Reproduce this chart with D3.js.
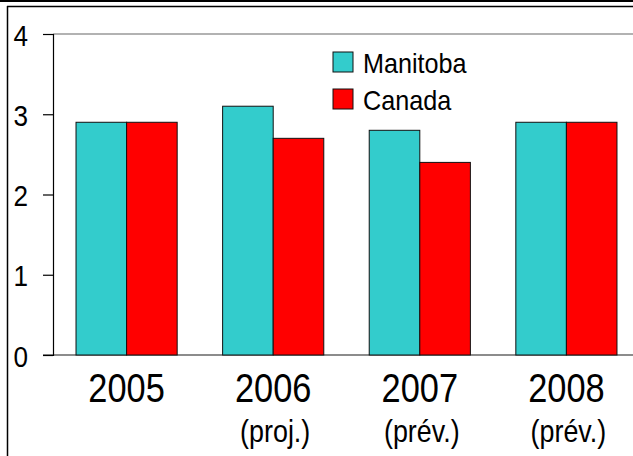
<!DOCTYPE html>
<html>
<head>
<meta charset="utf-8">
<script src="https://cdn.jsdelivr.net/npm/d3@7"></script>
<style>
  body { margin: 0; background: #fff; }
  svg text { font-family: "Liberation Sans", Arial, sans-serif; fill: #000; }
</style>
</head>
<body>
<svg></svg>
<script>
const years = ["2005", "2006", "2007", "2008"];
const notes = ["", "(proj.)", "(prév.)", "(prév.)"];
const seriesNames = ["Manitoba", "Canada"];
const manitoba = [2.9, 3.1, 2.8, 2.9];
const canada = [2.9, 2.7, 2.4, 2.9];
const yTicks = [0, 1, 2, 3, 4];
const colors = ["#33cccc", "#ff0000"];

let width = 633;
let height = 456;

let svg = d3.select('svg')
    .attr('width', width)
    .attr('height', height)

// no narrow font installed, so squeeze text horizontally
let narrow = (x, y, k) => 'translate(' + x + ',' + y + ') scale(' + k + ',1)'

// frame lines
svg.append('rect').attr('x', 0).attr('y', 0).attr('width', width).attr('height', 2).attr('fill', '#000')
svg.append('line').attr('x1', 7).attr('x2', width).attr('y1', 6.5).attr('y2', 6.5)
   .attr('stroke', '#000').attr('stroke-width', 1.5)
svg.append('line').attr('x1', 7.5).attr('x2', 7.5).attr('y1', 6).attr('y2', height)
   .attr('stroke', '#000').attr('stroke-width', 1.5)

let xScale = d3.scaleBand()
    .domain(years)
    .range([53, 640])
    .paddingInner(0.31)
    .paddingOuter(0.157)

let xSub = d3.scaleBand()
    .domain(seriesNames)
    .range([0, xScale.bandwidth()])

let yScale = d3.scaleLinear()
    .domain([0, 4])
    .range([355, 34])

// top gridline and baseline
svg.append('line').attr('x1', 53).attr('x2', width).attr('y1', yScale(4)).attr('y2', yScale(4))
   .attr('stroke', '#999').attr('stroke-width', 1.5)
svg.append('line').attr('x1', 43).attr('x2', width).attr('y1', yScale(0)).attr('y2', yScale(0))
   .attr('stroke', '#666').attr('stroke-width', 1.5)

// y axis
let yAxis = d3.axisLeft(yScale).tickValues(yTicks).tickSize(10).tickFormat(d3.format('d'))
let gy = svg.append('g')
    .attr('transform', 'translate(53, 0)')
    .call(yAxis)
gy.select('.domain').attr('stroke', '#000').attr('stroke-width', 1.2)
gy.selectAll('.tick line').attr('stroke', '#000').attr('stroke-width', 1.2)
gy.selectAll('.tick text')
    .attr('x', null)
    .attr('dy', null)
    .attr('transform', narrow(-25, 11, 0.9))
    .attr('text-anchor', 'end')
    .style('font-size', '29px')

// bars
let rows = years.map((y, i) => ({ year: y, values: [manitoba[i], canada[i]] }))
let groups = svg.selectAll('.grp')
    .data(rows)
    .enter()
    .append('g')
    .attr('class', 'grp')
    .attr('transform', d => 'translate(' + xScale(d.year) + ',0)')

groups.selectAll('rect')
    .data(d => d.values.map((v, j) => ({ name: seriesNames[j], value: v, j: j })))
    .enter()
    .append('rect')
    .attr('x', d => xSub(d.name))
    .attr('width', xSub.bandwidth())
    .attr('y', d => yScale(d.value))
    .attr('height', d => yScale(0) - yScale(d.value))
    .attr('fill', d => colors[d.j])
    .attr('stroke', '#111')
    .attr('stroke-width', 1)

// x labels
svg.selectAll('.yr')
    .data(years)
    .enter()
    .append('text')
    .attr('class', 'yr')
    .attr('transform', d => narrow(xScale(d) + xScale.bandwidth() / 2, 402, 0.86))
    .attr('text-anchor', 'middle')
    .style('font-size', '40px')
    .text(d => d)

svg.selectAll('.note')
    .data(notes)
    .enter()
    .append('text')
    .attr('class', 'note')
    .attr('transform', (d, i) => narrow(xScale(years[i]) + xScale.bandwidth() / 2 + 2, 442, 0.84))
    .attr('text-anchor', 'middle')
    .style('font-size', '32px')
    .text(d => d)

// legend
let legend = svg.selectAll('.leg')
    .data(seriesNames)
    .enter()
    .append('g')
    .attr('class', 'leg')
    .attr('transform', (d, i) => 'translate(333,' + (52 + i * 37) + ')')

legend.append('rect')
    .attr('width', 20)
    .attr('height', 20)
    .attr('fill', (d, i) => colors[i])
    .attr('stroke', '#111')
    .attr('stroke-width', 1)

legend.append('text')
    .attr('transform', narrow(30, 21, 0.9))
    .style('font-size', '28px')
    .text(d => d)
</script>
</body>
</html>
